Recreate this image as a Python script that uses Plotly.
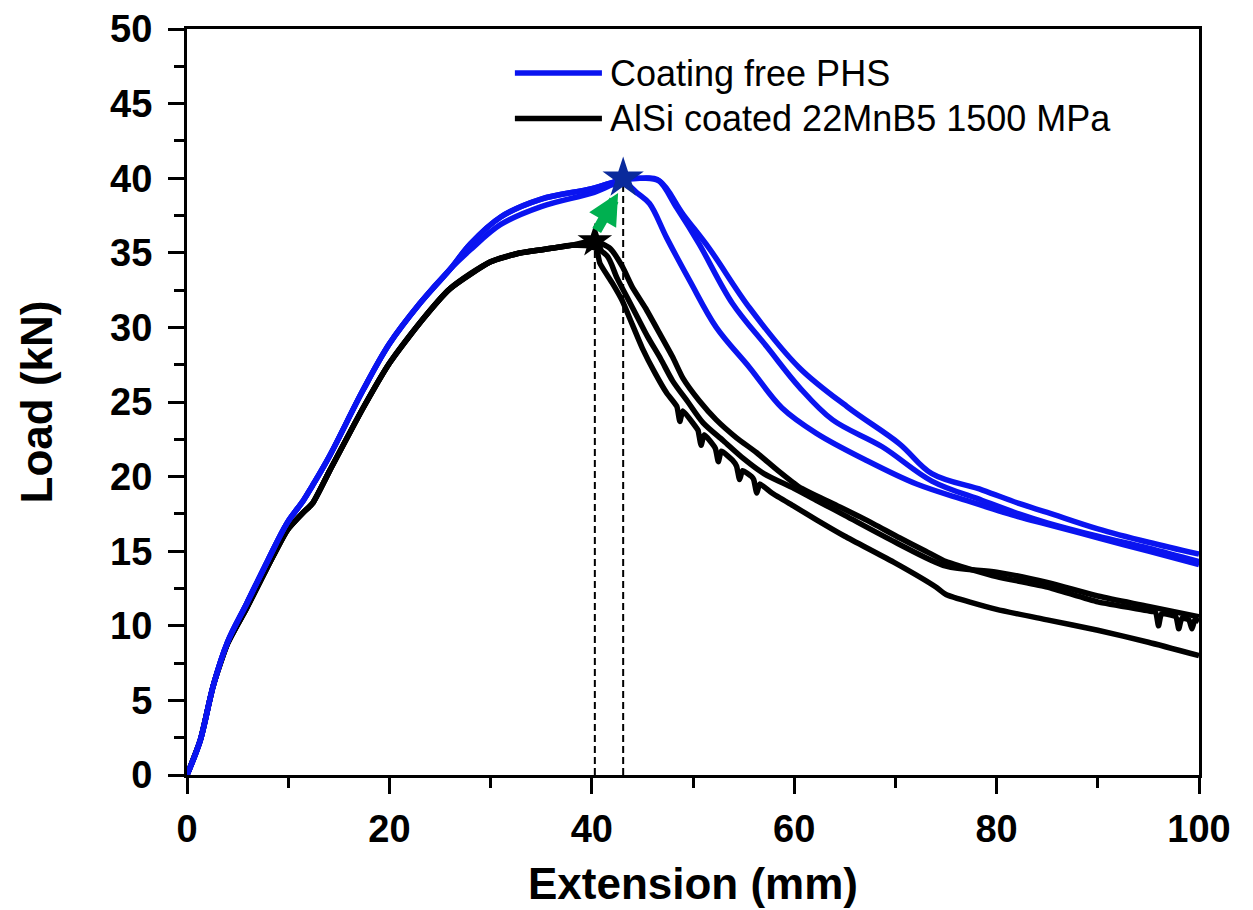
import plotly.graph_objects as go

# ---------------- data ----------------
# Coating free PHS (blue) - rising part shared
blue_rise_x = [0, 1.3, 2.6, 4, 5.9, 8, 9.9, 11.5, 12.4, 14.1, 17.4, 20, 23, 26]
blue_rise_y = [0, 2.3, 6.0, 8.9, 11.5, 14.4, 16.9, 18.4, 19.4, 21.4, 25.8, 28.9, 31.6, 33.9]

# specimen 1 (lower rising branch, earliest drop, peak at star)
blue1_x = [28, 31, 35, 40, 43.1, 44.5, 45.7, 47.4, 49.7, 52.3, 55.6, 58.8, 62.2, 67.1, 72.1, 77, 82.2, 85, 90, 95, 100]
blue1_y = [35.2, 36.9, 38.1, 39.0, 39.7, 39.0, 38.3, 36.0, 33.1, 30.0, 27.3, 24.6, 22.9, 21.1, 19.5, 18.4, 17.3, 16.8, 15.9, 15.0, 14.1]
# specimen 2 (upper branch, middle drop)
blue2_x = [28, 31, 35, 40, 43.1, 45, 46.5, 48.4, 50.6, 53.9, 57.3, 60.5, 63.8, 68.7, 73.6, 78.6, 82.2, 85, 90, 95, 100]
blue2_y = [35.6, 37.4, 38.6, 39.3, 39.9, 40.0, 39.9, 38.0, 35.6, 31.6, 28.7, 26.0, 23.8, 22.0, 19.7, 18.4, 17.5, 16.9, 16.0, 15.2, 14.3]
# specimen 3 (upper branch, latest drop)
blue3_x = [28, 31, 35, 40, 43.1, 45, 46.7, 49, 51.6, 55.6, 60.5, 65.4, 70.4, 73.6, 78.6, 82.2, 85, 90, 95, 100]
blue3_y = [35.6, 37.4, 38.6, 39.3, 39.9, 40.0, 39.8, 37.6, 35.3, 31.3, 27.3, 24.6, 22.2, 20.2, 19.1, 18.2, 17.6, 16.5, 15.6, 14.8]

# AlSi coated 22MnB5 1500 MPa (black) - rising part shared
black_rise_x = [0, 1.3, 2.6, 4, 5.9, 8, 9.9, 11.5, 12.4, 14.1, 17.4, 20, 23, 26, 30, 33, 36, 38]
black_rise_y = [0, 2.3, 6.0, 8.8, 11.2, 14.0, 16.4, 17.6, 18.2, 20.4, 24.6, 27.6, 30.3, 32.6, 34.4, 35.0, 35.3, 35.5]

blackA_x = [40.3, 40.8, 42, 43, 44, 45, 46.2, 47.4, 48.4, 48.7, 49.0, 50.3, 50.5, 50.8, 51.1, 52.2, 52.5, 52.8,
            53.9, 54.3, 54.6, 54.9, 55.8, 56.0, 56.3, 56.6, 57.8, 60, 62.2, 65, 70, 74, 75, 80, 85, 90, 95, 100]
blackA_y = [35.6, 34.3, 33.0, 31.8, 30.2, 28.6, 27.0, 25.6, 24.7, 23.7, 24.4, 23.3, 23.1, 22.1, 22.8, 21.9, 21.0, 21.7,
            21.1, 20.7, 19.8, 20.4, 20.0, 19.8, 18.9, 19.5, 18.9, 18.0, 17.1, 16.0, 14.2, 12.6, 12.1, 11.1, 10.4, 9.7, 8.9, 8.0]
blackB_x = [40.3, 41.8, 43, 44, 45.3, 46.7, 48, 49, 50.6, 52.3, 54.3, 56.3, 58.4, 60.5, 63.8, 67.1, 70.4, 73, 75, 80, 85, 90,
            95, 95.7, 96, 96.3, 97.7, 98, 98.3, 99.0, 99.3, 99.6, 100]
blackB_y = [35.8, 35.3, 34.1, 32.7, 31.3, 29.6, 28.0, 26.6, 25.1, 23.8, 22.6, 21.6, 20.4, 19.3, 18.2, 17.1, 15.9, 15.0, 14.3, 13.3, 12.6, 11.6,
            11.0, 10.9, 10.0, 10.8, 10.6, 9.8, 10.5, 10.4, 9.8, 10.4, 10.3]
blackC_x = [40, 41.5, 42.5, 43.5, 44.5, 45.5, 46.8, 48, 49.5, 51, 53, 55, 57, 60, 62.5, 65, 70, 75, 80, 85, 90, 95, 100]
blackC_y = [35.4, 34.8, 33.3, 32.0, 30.7, 29.4, 27.9, 26.4, 25.0, 23.6, 22.4, 21.2, 20.2, 19.2, 18.3, 17.4, 15.6, 14.0, 13.6, 12.9, 12.0, 11.3, 10.6]

# peak markers
peak_blue = (43.1, 40.0)
peak_black = (40.3, 35.8)

legend_names = ["Coating free PHS", "AlSi coated 22MnB5 1500 MPa"]

BLUE = "#0a14f0"
BLACK = "#000000"
FONT = "Liberation Sans, Arial"

fig = go.Figure()

# dashed drop lines from the peaks
for px, py in (peak_black, peak_blue):
    fig.add_trace(go.Scatter(x=[px, px], y=[0, py], mode="lines",
                             line=dict(color="black", width=2, dash="7px,4px"),
                             showlegend=False, hoverinfo="skip"))

# black star (mostly hidden behind the black curves)
fig.add_trace(go.Scatter(x=[peak_black[0]], y=[peak_black[1]], mode="markers",
                         marker=dict(symbol="star", size=26, color="black"),
                         showlegend=False, hoverinfo="skip"))

def add_curve(rx, ry, x, y, color, smooth):
    xs = list(rx) + list(x)
    ys = list(ry) + list(y)
    fig.add_trace(go.Scatter(x=xs, y=ys, mode="lines",
                             line=dict(color=color, width=5.5, shape="spline", smoothing=smooth),
                             showlegend=False, hoverinfo="skip"))

add_curve(black_rise_x, black_rise_y, blackA_x, blackA_y, BLACK, 0.5)
add_curve(black_rise_x, black_rise_y, blackB_x, blackB_y, BLACK, 0.5)
add_curve(black_rise_x, black_rise_y, blackC_x, blackC_y, BLACK, 0.8)
add_curve(blue_rise_x, blue_rise_y, blue1_x, blue1_y, BLUE, 1.0)
add_curve(blue_rise_x, blue_rise_y, blue2_x, blue2_y, BLUE, 1.0)
add_curve(blue_rise_x, blue_rise_y, blue3_x, blue3_y, BLUE, 1.0)

# blue star
fig.add_trace(go.Scatter(x=[peak_blue[0]], y=[peak_blue[1]], mode="markers",
                         marker=dict(symbol="star", size=31, color="#0a2a9c"),
                         showlegend=False, hoverinfo="skip"))

# green arrow
fig.add_annotation(x=42.6, y=39.0, ax=40.4, ay=36.4, xref="x", yref="y", axref="x", ayref="y",
                   showarrow=True, arrowhead=2, arrowsize=0.62, arrowwidth=10,
                   arrowcolor="#00b050", text="")

# legend (drawn as line samples + labels)
leg_rows = [0.941, 0.880]
for name, color, yy in zip(legend_names, [BLUE, BLACK], leg_rows):
    fig.add_shape(type="line", xref="paper", yref="paper", x0=0.324, x1=0.410, y0=yy, y1=yy,
                  line=dict(color=color, width=5.5))
    fig.add_annotation(xref="paper", yref="paper", x=0.416, y=yy, xanchor="left", yanchor="middle",
                       text=name, showarrow=False,
                       font=dict(family=FONT, size=36, color="black"))

tickfont = dict(family=FONT, size=38, color="black", weight="bold")
titlefont = dict(family=FONT, size=44, color="black", weight="bold")

fig.update_xaxes(range=[0, 100], tickvals=[0, 20, 40, 60, 80, 100],
                 ticks="outside", ticklen=16, tickwidth=3, tickcolor="black",
                 minor=dict(dtick=10, ticks="outside", ticklen=10, tickwidth=3, tickcolor="black"),
                 showline=True, linewidth=3, linecolor="black", mirror=True,
                 showgrid=False, zeroline=False, tickfont=tickfont, ticklabelstandoff=2,
                 automargin=False,
                 title=dict(text="Extension (mm)", font=titlefont, standoff=20))
fig.update_yaxes(range=[0, 50], tickvals=[0, 5, 10, 15, 20, 25, 30, 35, 40, 45, 50],
                 ticks="outside", ticklen=16, tickwidth=3, tickcolor="black",
                 minor=dict(dtick=2.5, ticks="outside", ticklen=10, tickwidth=3, tickcolor="black"),
                 showline=True, linewidth=3, linecolor="black", mirror=True,
                 showgrid=False, zeroline=False, tickfont=tickfont, ticklabelstandoff=8,
                 automargin=False,
                 title=dict(text="Load (kN)", font=titlefont, standoff=44))

fig.update_layout(
    width=1253, height=910,
    margin=dict(l=179, r=62, t=21, b=143, autoexpand=False),
    paper_bgcolor="white", plot_bgcolor="white",
    showlegend=False,
)

fig.write_html("out.html")
